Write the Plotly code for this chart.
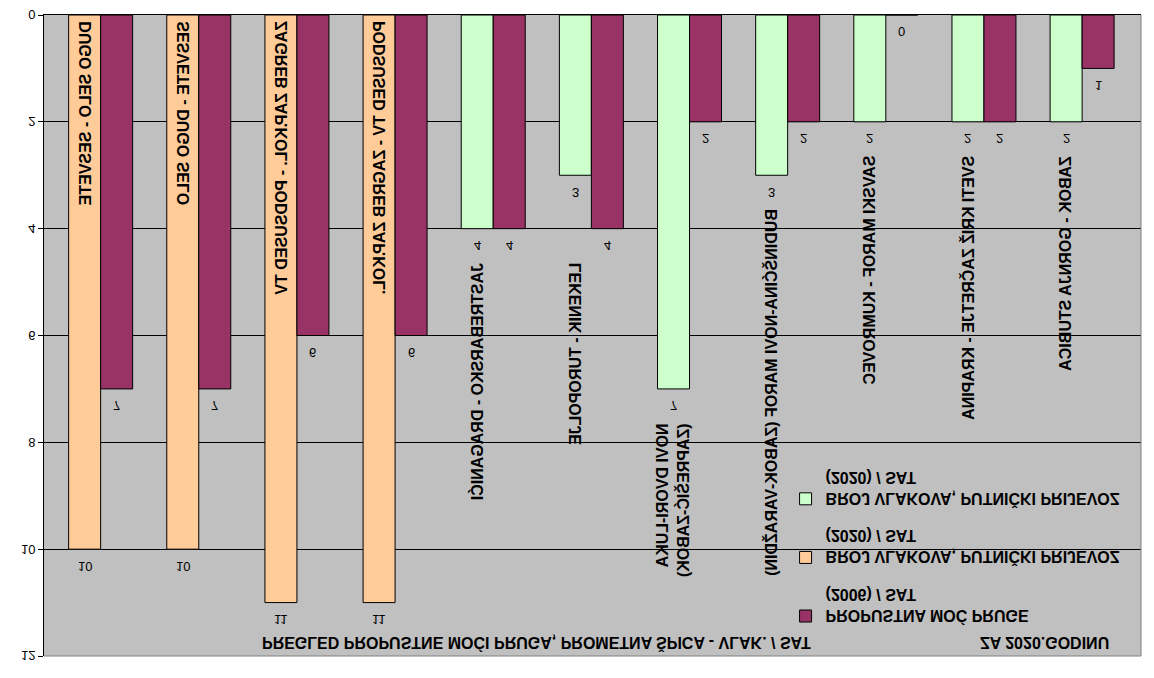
import plotly.graph_objects as go

# ---------------- data ----------------
categories = [
    "DUGO SELO - SESVETE",
    "SESVETE - DUGO SELO",
    "ZAGREB ZAP.KOL. - PODSUSED TV",
    "PODSUSED TV - ZAGREB ZAP.KOL.",
    "JASTREBARSKO - DRAGANIĆI",
    "LEKENIK - TUROPOLJE",
    "NOVI DVORI-LUKA<br>(ZAPREŠIĆ-ZABOK)",
    "BUDINŠĆINA-NOVI MAROF (ZABOK-VARAŽDIN)",
    "SAVSKI MAROF - KUMROVEC",
    "SVETI KRIŽ ZAČRETJE - KRAPINA",
    "ZABOK - GORNJA STUBICA",
]
orange_vals = [10, 10, 11, 11, None, None, None, None, None, None, None]
green_vals = [None, None, None, None, 4, 3, 7, 3, 2, 2, 2]
purple_vals = [7, 7, 6, 6, 4, 4, 2, 2, 0, 2, 1]
y_ticks = [0, 2, 4, 6, 8, 10, 12]

name_purple = "PROPUSTNA MOĆ PRUGE<br>(2006) / SAT"
name_orange = "BROJ VLAKOVA, PUTNIČKI PRIJEVOZ<br>(2020) / SAT"
name_green = "BROJ VLAKOVA, PUTNIČKI PRIJEVOZ<br>(2020) / SAT"
title_text = "PREGLED PROPUSTNE MOĆI PRUGA, PROMETNA ŠPICA - VLAK. / SAT"
year_text = "ZA 2020.GODINU"

# ---------------- style ----------------
FONT = "Liberation Sans, Arial, sans-serif"
BW = 0.326
x = list(range(len(categories)))
outline = dict(color="black", width=1)

fig = go.Figure()
fig.add_bar(x=x, y=orange_vals, name=name_orange, width=BW, offset=-BW,
            marker=dict(color="#FFCC99", line=outline), legendrank=2,
            legendgroup="o")
fig.add_bar(x=x, y=green_vals, name=name_green, width=BW, offset=-BW,
            marker=dict(color="#CCFFCC", line=outline), legendrank=3,
            legendgroup="g")
fig.add_bar(x=x, y=purple_vals, name=name_purple, width=BW, offset=0,
            marker=dict(color="#993366", line=outline), legendrank=1,
            legendgroup="p")

annotations = []
# value labels
for i in x:
    for vals, dx in ((orange_vals, -BW / 2), (green_vals, -BW / 2), (purple_vals, BW / 2)):
        v = vals[i]
        if v is None:
            continue
        annotations.append(dict(x=i + dx, y=v, xref="x", yref="y", text=str(v),
                                showarrow=False, yanchor="middle", yshift=17,
                                font=dict(family=FONT, size=13, color="black")))
# category labels
for i, cat in enumerate(categories):
    if orange_vals[i] is not None:
        base, shift = 0, 4
    else:
        base = max(v for v in (green_vals[i], purple_vals[i]) if v is not None)
        shift = 32
    annotations.append(dict(x=i - BW / 2, y=base, xref="x", yref="y", text=cat,
                            showarrow=False, textangle=-90, yanchor="bottom",
                            xanchor="center", align="left", yshift=shift,
                            font=dict(family=FONT, size=16, color="black", weight="bold")))
annotations.append(dict(x=0.8514, y=0.9797, xref="paper", yref="paper", text=year_text,
                        showarrow=False, xanchor="left", yanchor="middle",
                        font=dict(family=FONT, size=16, color="black", weight="bold")))

fig.update_layout(
    width=1154, height=678,
    margin=dict(l=44, r=13, t=22, b=15, autoexpand=False),
    paper_bgcolor="white", plot_bgcolor="#C0C0C0",
    barmode="overlay",
    title=dict(text=title_text, x=0.1987, xref="paper", xanchor="left",
               y=1 - 35 / 678, yref="container", yanchor="middle", automargin=False,
               font=dict(family=FONT, size=16, color="black", weight="bold")),
    legend=dict(x=0.676, y=0.964, xanchor="left", yanchor="top",
                bgcolor="rgba(0,0,0,0)", traceorder="grouped", tracegroupgap=14,
                valign="top",
                font=dict(family=FONT, size=16, color="black", weight="bold")),
    annotations=annotations,
    shapes=[dict(type="path", xref="paper", yref="paper", path="M 0,1 L 1,1 L 1,0",
                 line=dict(color="#808080", width=1))],
    xaxis=dict(range=[-0.577, 10.6], showticklabels=False, showgrid=False, automargin=False,
               zeroline=False, showline=True, linecolor="black", linewidth=1, ticks=""),
    yaxis=dict(range=[0, 12], tickvals=y_ticks, ticks="outside", ticklen=5, automargin=False,
               tickcolor="black", showline=True, linecolor="black", linewidth=1,
               showgrid=True, gridcolor="black", gridwidth=1, zeroline=False,
               tickfont=dict(family=FONT, size=13, color="black")),
    font=dict(family=FONT, color="black"),
)

flip_js = """
document.body.style.margin = '0';
document.body.style.overflow = 'hidden';
var gd = document.getElementById('{plot_id}');
gd.style.transformOrigin = '50% 50%';
gd.style.transform = 'scaleY(-1)';
"""

fig.write_html("out.html", post_script=flip_js, config={"displayModeBar": False})
